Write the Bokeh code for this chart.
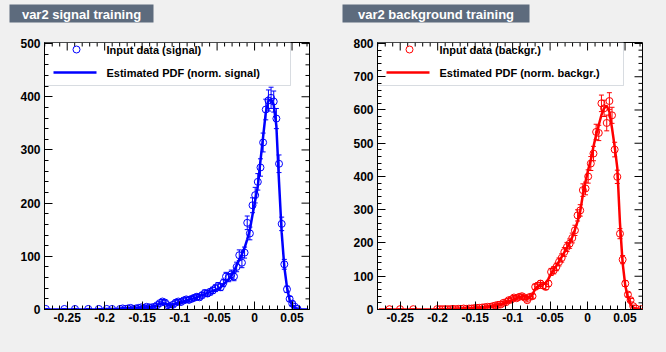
import numpy as np
from bokeh.plotting import figure
from bokeh.models import (ColumnDataSource, FixedTicker, Range1d,
                          Label, BoxAnnotation, Whisker, TeeHead)
from bokeh.core.properties import value
from bokeh.layouts import row, column
from bokeh.embed import file_html
from bokeh.resources import INLINE

# ---------------- data ----------------
bin_lo, bin_hi, n_bins = -0.2803, 0.0733, 100

signal_counts = [
    1, 0, 0, 0, 0, 0, 0, 1, 0, 0,
    0, 1, 0, 0, 0, 0, 1, 0, 0, 0,
    1, 0, 0, 1, 0, 1, 0, 0, 1, 2,
    1, 2, 3, 1, 2, 3, 4, 3, 5, 4,
    4, 5, 8, 12, 15, 13, 8, 6, 9, 13,
    15, 14, 17, 19, 18, 20, 22, 24, 23, 27,
    31, 30, 33, 36, 40, 44, 42, 50, 62, 60,
    66, 62, 80, 102, 88, 107, 163, 143, 196, 215,
    240, 267, 314, 376, 393, 398, 391, 359, 274, 161,
    85, 38, 20, 11, 5, 1, 0, 0, 0, 0,
]
signal_pdf = [
    0, 0, 0, 0, 0, 0, 0, 0, 0, 0,
    0, 0, 0, 0, 0, 0, 0, 0, 0, 0,
    0.5, 0.5, 1, 1, 1, 1, 1, 1, 1.5, 1.5,
    2, 2, 2, 2, 2.5, 3, 3, 3.5, 4, 4.5,
    5, 6, 8, 11, 12, 11, 9, 8, 9, 11,
    13, 14, 15, 17, 18, 20, 21, 23, 25, 27,
    29, 31, 33, 35, 37, 38, 42, 47, 52, 57,
    63, 72, 83, 94, 104, 116, 132, 150, 178, 205,
    232, 280, 325, 370, 393, 395, 385, 345, 240, 145,
    80, 42, 18, 7, 3, 1, 0, 0, 0, 0,
]
backgr_counts = [
    0, 0, 0, 0, 1, 0, 0, 0, 1, 0,
    0, 0, 0, 1, 0, 0, 0, 0, 0, 0,
    0, 0, 1, 1, 1, 1, 1, 1, 2, 1,
    2, 2, 3, 2, 3, 3, 4, 5, 5, 6,
    7, 8, 8, 10, 12, 14, 15, 20, 22, 28,
    30, 36, 34, 38, 40, 36, 28, 38, 40, 68,
    72, 78, 72, 68, 78, 113, 118, 128, 143, 155,
    173, 188, 198, 215, 238, 283, 298, 359, 364, 400,
    439, 469, 534, 531, 620, 605, 561, 627, 584, 481,
    399, 228, 150, 78, 45, 28, 10, 3, 0, 1,
]
backgr_pdf = [
    0, 0, 0, 0, 0, 0, 0, 0, 0, 0,
    0, 0, 0, 0, 0, 0, 0, 0, 0, 0,
    0, 0.3, 0.5, 0.7, 1, 1, 1.5, 1.5, 2, 2,
    2.5, 3, 3, 3.5, 4, 4.5, 5, 5.5, 6, 6.5,
    7, 8, 9, 10, 12, 14, 16, 18, 21, 24,
    27, 31, 34, 37, 39, 40, 38, 36, 45, 62,
    70, 75, 76, 80, 92, 108, 120, 132, 145, 158,
    172, 186, 200, 218, 240, 265, 295, 345, 385, 420,
    450, 490, 525, 555, 585, 605, 613, 595, 545, 490,
    425, 260, 140, 72, 35, 15, 5, 1, 0, 0,
]

x_ticks = [-0.25, -0.2, -0.15, -0.1, -0.05, 0.0, 0.05]
x_tick_labels = ["-0.25", "-0.2", "-0.15", "-0.1", "-0.05", "0", "0.05"]
x_minor = [round(-0.28 + 0.01 * k, 3) for k in range(36)]

sig_y_ticks = [0, 100, 200, 300, 400, 500]
bkg_y_ticks = [0, 100, 200, 300, 400, 500, 600, 700, 800]

# ---------------- layout constants ----------------
W = 333
TITLE_H = 30
H = 352 - TITLE_H
PAGE_FRAME_TOP = 42
FL, FR, FT, FB = 44, 24, PAGE_FRAME_TOP - TITLE_H, 43
FW, FH = W - FL - FR, H - FT - FB
FONT = "Liberation Sans"
BG = "#f0f0f0"


def make_title(text, box_right):
    t = figure(width=W, height=TITLE_H, x_range=Range1d(0, W), y_range=Range1d(TITLE_H, 0),
               output_backend="svg", toolbar_location=None, x_axis_type=None, y_axis_type=None,
               min_border=0, background_fill_color=BG, border_fill_color=BG,
               outline_line_color=None, frame_align=False)
    t.grid.visible = False
    t.quad(left=[9], right=[box_right], top=[4], bottom=[22], fill_color="#5D6B7D",
           line_color=None)
    t.text(x=[(9 + box_right) / 2], y=[13.5], text=[text], text_align="center",
           text_baseline="middle", text_color="white", text_font=value(FONT),
           text_font_style="bold", text_font_size="13px")
    return t


def make_panel(counts, pdf, color, y_max, y_ticks, leg_data, leg_pdf):
    x0, x1 = bin_lo, bin_hi
    y0, y1 = 0, y_max
    dx = (x1 - x0) / FW
    dy = (y1 - y0) / FH

    def px2x(px):
        return x0 + (px - FL) * dx

    def py2y(py):  # py in page coordinates
        return y1 - (py - PAGE_FRAME_TOP) * dy

    p = figure(width=W, height=H, x_range=Range1d(x0, x1), y_range=Range1d(y0, y1),
               output_backend="svg", toolbar_location=None,
               min_border_left=FL, min_border_right=FR,
               min_border_top=FT, min_border_bottom=FB,
               background_fill_color="white", border_fill_color=BG,
               outline_line_color="black", outline_line_width=1, frame_align=False)
    p.grid.visible = False

    y_minor = list(range(0, int(y_max) + 1, 20))
    xt = FixedTicker(ticks=x_ticks, minor_ticks=x_minor)
    yt = FixedTicker(ticks=y_ticks, minor_ticks=y_minor)

    for ax in (p.xaxis[0], p.yaxis[0]):
        ax.major_tick_in = 8
        ax.major_tick_out = 0
        ax.minor_tick_in = 4
        ax.minor_tick_out = 0
        ax.axis_line_color = "black"
        ax.major_tick_line_color = "black"
        ax.minor_tick_line_color = "black"
        ax.major_label_text_font = FONT
        ax.major_label_text_font_style = "bold"
        ax.major_label_text_font_size = "12px"
        ax.major_label_text_color = "black"
    p.xaxis[0].ticker = xt
    p.xaxis[0].major_label_overrides = {t: l for t, l in zip(x_ticks, x_tick_labels)}
    p.xaxis[0].major_label_standoff = 3
    p.yaxis[0].ticker = yt
    p.yaxis[0].major_label_standoff = 4

    # legend box
    p.add_layout(BoxAnnotation(left=px2x(44), right=px2x(290), top=py2y(42), bottom=py2y(85),
                               fill_color="white", fill_alpha=1.0,
                               line_color="#7D8B9D", line_width=1, level="underlay"))

    # mirrored ticks on top and right edges
    top_x = list(x_ticks) + [m for m in x_minor if m not in x_ticks]
    top_len = [8] * len(x_ticks) + [4] * (len(top_x) - len(x_ticks))
    p.segment(top_x, [y1] * len(top_x), top_x, [y1 - L * dy for L in top_len],
              line_color="black", line_width=1)
    right_y = list(y_ticks) + [m for m in y_minor if m not in y_ticks]
    right_len = [8] * len(y_ticks) + [4] * (len(right_y) - len(y_ticks))
    p.segment([x1] * len(right_y), right_y, [x1 - L * dx for L in right_len], right_y,
              line_color="black", line_width=1)

    xc = [bin_lo + (i + 0.5) * (bin_hi - bin_lo) / n_bins for i in range(n_bins)]
    xs = [x for x, c in zip(xc, counts) if c > 0]
    cs = [c for c in counts if c > 0]
    err = [np.sqrt(c) for c in cs]
    src = ColumnDataSource(dict(x=xs, y=cs, lo=[c - e for c, e in zip(cs, err)],
                                up=[c + e for c, e in zip(cs, err)]))
    p.add_layout(Whisker(source=src, base="x", upper="up", lower="lo",
                         line_color=color, line_width=1,
                         upper_head=TeeHead(size=5, line_color=color, line_width=1),
                         lower_head=TeeHead(size=5, line_color=color, line_width=1)))
    p.scatter("x", "y", source=src, marker="circle", size=7, fill_color=None,
              line_color=color, line_width=1)
    p.line(xc, pdf, line_color=color, line_width=2.5)

    # legend entries
    p.scatter([px2x(76)], [py2y(49)], marker="circle", size=7, fill_color=None,
              line_color=color, line_width=1)
    p.segment([px2x(53)], [py2y(72)], [px2x(96)], [py2y(72)], line_color=color, line_width=2.5)
    for txt, py in ((leg_data, 49), (leg_pdf, 72)):
        p.add_layout(Label(x=px2x(106), y=py2y(py), text=txt, text_font=FONT,
                           text_font_style="bold", text_font_size="11px",
                           text_baseline="middle", text_align="left", text_color="black"))
    return p


t1 = make_title("var2 signal training", 153)
p1 = make_panel(signal_counts, signal_pdf, "#0000ff", 502,
                sig_y_ticks, "Input data (signal)", "Estimated PDF (norm. signal)")
t2 = make_title("var2 background training", 196)
p2 = make_panel(backgr_counts, backgr_pdf, "#ff0000", 803,
                bkg_y_ticks, "Input data (backgr.)", "Estimated PDF (norm. backgr.)")

st = {"background-color": BG}
layout = row(column(t1, p1, spacing=0, styles=st), column(t2, p2, spacing=0, styles=st),
             spacing=0, styles=st)
open("out.html", "w").write(file_html(layout, INLINE))
